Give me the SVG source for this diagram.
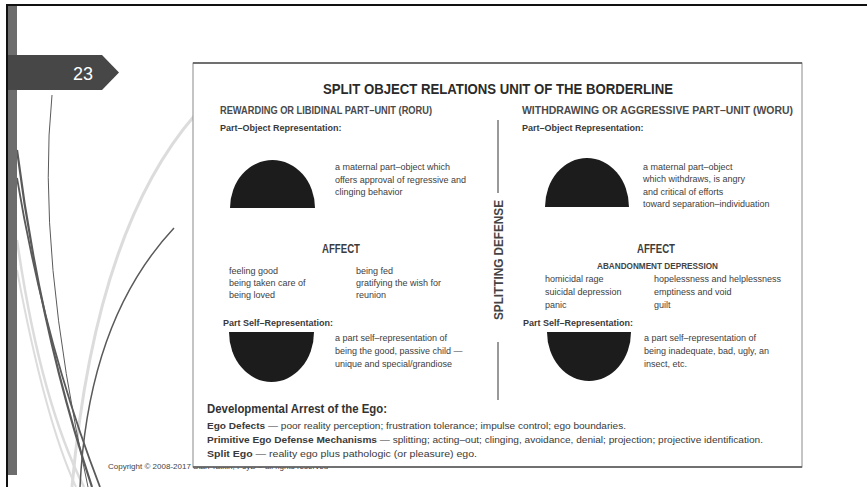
<svg xmlns="http://www.w3.org/2000/svg" width="867" height="487" viewBox="0 0 867 487">
<defs>
<style>
.h{font-family:"Liberation Sans",Arial,sans-serif;font-weight:bold;fill:#2a2a2a}
.sh{font-family:"Liberation Sans",Arial,sans-serif;font-weight:bold;fill:#4a4a4a;font-size:10.5px}
.lb{font-family:"Liberation Sans",Arial,sans-serif;font-weight:bold;fill:#3a3a3a;font-size:9px}
.b{font-family:"Liberation Sans",Arial,sans-serif;font-size:9px;fill:#404040}
.e{font-family:"Liberation Sans",Arial,sans-serif;font-size:9.5px;fill:#3a3a3a}
.dome{fill:#1c1c1c}
.dk{fill:none;stroke:#5a5a5a}
.lt{fill:none;stroke:#dcdcdc}
</style>
</defs>
<rect width="867" height="487" fill="#ffffff"/>
<g id="slide-frame">
<path class="lt" stroke-width="3" d="M195,115 Q95,230 72,487"/>
<path class="lt" stroke-width="2.5" d="M17,240 Q40,400 84,487"/>
<path class="lt" stroke-width="2" d="M17,270 Q45,420 76,487"/>
<path class="dk" stroke-width="2.2" d="M17,150 Q40,330 92,487"/>
<path class="dk" stroke-width="1.8" d="M17,178 Q45,345 100,487"/>
<path class="dk" stroke-width="1" stroke="#777" d="M52,95 Q36,250 88,487"/>
<path class="dk" stroke-width="1.5" stroke="#666" d="M174,228 Q88,320 80,487"/>
<rect x="8" y="6" width="9" height="469" fill="#6d6d6d"/>
<rect x="6" y="4" width="861" height="2" fill="#111"/>
<rect x="6" y="4" width="2" height="483" fill="#111"/>
<polygon points="8,55 102,55 119,72.5 102,90 8,90" fill="#474747"/>
<text x="83" y="79.5" text-anchor="middle" font-family="Liberation Sans, Arial, sans-serif" font-size="18" fill="#ffffff">23</text>
<text x="108" y="469" font-family="Liberation Sans, Arial, sans-serif" font-size="8" fill="#444">Copyright © 2008-2017 Stan Tatkin, PsyD – all rights reserved</text>
</g>
<g id="figure">
<rect x="193" y="63" width="609" height="404" fill="#ffffff" stroke="#8a8a8a" stroke-width="1"/>
<line x1="193" y1="63" x2="802" y2="63" stroke="#555" stroke-width="1.6"/>
<line x1="193" y1="467" x2="802" y2="467" stroke="#555" stroke-width="1.6"/>
</g>
<g id="title">
<text class="h" x="323" y="94" font-size="14" textLength="350" lengthAdjust="spacingAndGlyphs">SPLIT OBJECT RELATIONS UNIT OF THE BORDERLINE</text>
</g>
<g id="connectors">
<line x1="498" y1="120" x2="498" y2="193" stroke="#555" stroke-width="1.2"/>
<line x1="498" y1="342" x2="498" y2="400" stroke="#555" stroke-width="1.2"/>
</g>
<g id="splitting-defense">
<text class="h" transform="translate(503,320) rotate(-90)" x="0" y="0" font-size="12" style="fill:#444" textLength="120" lengthAdjust="spacingAndGlyphs">SPLITTING DEFENSE</text>
</g>
<g id="roru">
<text class="sh" x="220" y="114" textLength="212" lengthAdjust="spacingAndGlyphs">REWARDING OR LIBIDINAL PART–UNIT (RORU)</text>
<text class="lb" x="220" y="130.5">Part–Object Representation:</text>
<path class="dome" d="M230,208 A42.5,48 0 0 1 315,208 Z"/>
<text class="b" x="335" y="170">a maternal part–object which</text>
<text class="b" x="335" y="182.5">offers approval of regressive and</text>
<text class="b" x="335" y="195">clinging behavior</text>
<text class="h" x="322" y="252.5" font-size="12" style="fill:#3c3c3c" textLength="38" lengthAdjust="spacingAndGlyphs">AFFECT</text>
<text class="b" x="229" y="274">feeling good</text>
<text class="b" x="229" y="286">being taken care of</text>
<text class="b" x="229" y="298">being loved</text>
<text class="b" x="356" y="274">being fed</text>
<text class="b" x="356" y="286">gratifying the wish for</text>
<text class="b" x="356" y="298">reunion</text>
<text class="lb" x="223" y="326">Part  Self–Representation:</text>
<path class="dome" d="M229,332 A42.5,50 0 0 0 314,332 Z"/>
<text class="b" x="335" y="341">a part self–representation of</text>
<text class="b" x="335" y="354">being the good, passive child —</text>
<text class="b" x="335" y="367">unique and special/grandiose</text>
</g>
<g id="woru">
<text class="sh" x="522" y="114" textLength="271" lengthAdjust="spacingAndGlyphs">WITHDRAWING OR AGGRESSIVE PART–UNIT (WORU)</text>
<text class="lb" x="522" y="130.5">Part–Object Representation:</text>
<path class="dome" d="M545,207 A42,49 0 0 1 629,207 Z"/>
<text class="b" x="643" y="169.5">a maternal part–object</text>
<text class="b" x="643" y="182">which withdraws, is angry</text>
<text class="b" x="643" y="194.5">and critical of efforts</text>
<text class="b" x="643" y="207">toward separation–individuation</text>
<text class="h" x="637" y="252.5" font-size="12" style="fill:#3c3c3c" textLength="38" lengthAdjust="spacingAndGlyphs">AFFECT</text>
<text class="h" x="597" y="269" font-size="8.5" style="fill:#444" textLength="121" lengthAdjust="spacingAndGlyphs">ABANDONMENT DEPRESSION</text>
<text class="b" x="545" y="282">homicidal rage</text>
<text class="b" x="545" y="295">suicidal depression</text>
<text class="b" x="545" y="308">panic</text>
<text class="b" x="654" y="282">hopelessness and helplessness</text>
<text class="b" x="654" y="295">emptiness and void</text>
<text class="b" x="654" y="308">guilt</text>
<text class="lb" x="523" y="326">Part  Self–Representation:</text>
<path class="dome" d="M547,332 A42,49 0 0 0 631,332 Z"/>
<text class="b" x="644" y="341">a part self–representation of</text>
<text class="b" x="644" y="354">being inadequate, bad, ugly, an</text>
<text class="b" x="644" y="367">insect, etc.</text>
</g>
<g id="ego-arrest">
<text class="h" x="207" y="413" font-size="13" style="fill:#333" textLength="180" lengthAdjust="spacingAndGlyphs">Developmental Arrest of the Ego:</text>
<text class="e" x="207" y="429" textLength="419" lengthAdjust="spacingAndGlyphs"><tspan font-weight="bold">Ego Defects</tspan> — poor reality perception; frustration tolerance; impulse control; ego boundaries.</text>
<text class="e" x="207" y="442.5" textLength="556" lengthAdjust="spacingAndGlyphs"><tspan font-weight="bold">Primitive Ego Defense Mechanisms</tspan> — splitting; acting–out; clinging, avoidance, denial; projection; projective identification.</text>
<text class="e" x="207" y="457" textLength="270" lengthAdjust="spacingAndGlyphs"><tspan font-weight="bold">Split Ego</tspan> — reality ego plus pathologic (or pleasure) ego.</text>
</g>
</svg>
